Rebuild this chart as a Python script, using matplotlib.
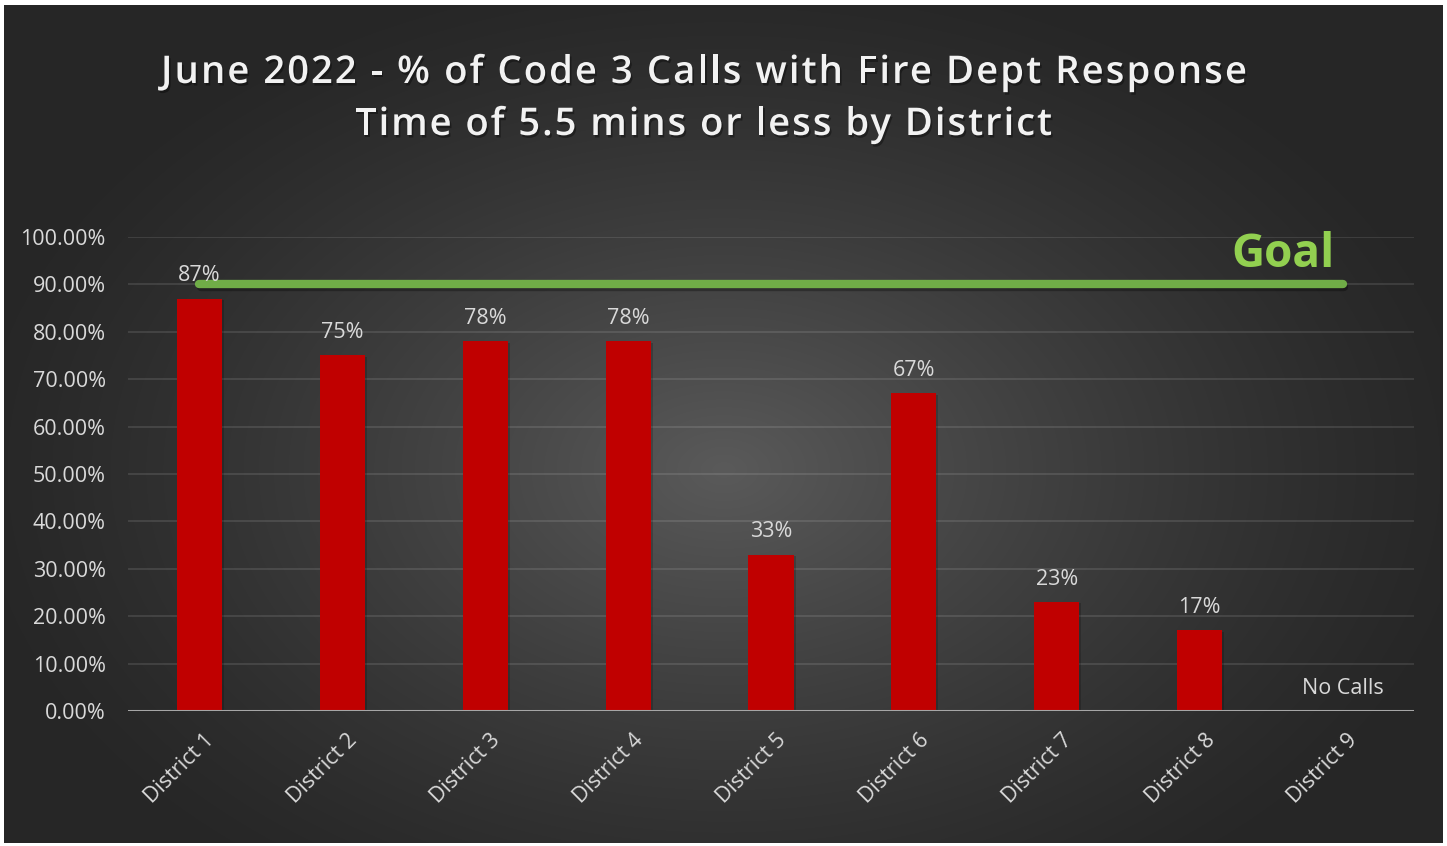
import numpy as np
import matplotlib
matplotlib.use("Agg")
import matplotlib.pyplot as plt
import matplotlib.patheffects as pe
import matplotlib.transforms as mtransforms

# ---- data ----
districts = ["District 1", "District 2", "District 3", "District 4", "District 5",
             "District 6", "District 7", "District 8", "District 9"]
pct_within_goal = [0.87, 0.75, 0.78, 0.78, 0.33, 0.67, 0.23, 0.17, 0.0]
value_labels = ["87%", "75%", "78%", "78%", "33%", "67%", "23%", "17%", "No Calls"]
goal_value = 0.90
yticks = [0.0, 0.1, 0.2, 0.3, 0.4, 0.5, 0.6, 0.7, 0.8, 0.9, 1.0]
title_lines = ["June 2022 - % of Code 3 Calls with Fire Dept Response",
               "Time of 5.5 mins or less by District"]

W, H = 1447, 846
DPI = 100
fig = plt.figure(figsize=(W / DPI, H / DPI), dpi=DPI, facecolor="white")

# ---- dark radial-gradient backdrop ----
bg = fig.add_axes([0, 0, 1, 1], zorder=-10)
bg.set_xlim(0, W)
bg.set_ylim(H, 0)
bg.axis("off")
x0, x1, y0, y1 = 4, 1443, 5, 843
xs = np.arange(x0, x1) + 0.5
ys = np.arange(y0, y1) + 0.5
X, Y = np.meshgrid(xs, ys)
cx, cy, rx, ry = 724, 470, 780, 520
r = np.clip(np.sqrt(((X - cx) / rx) ** 2 + ((Y - cy) / ry) ** 2), 0, 1)
inner, outer = 0x5a / 255, 0x26 / 255
val = outer + (inner - outer) * (1 - r) ** 1.3
img = np.dstack([val, val, val])
bg.imshow(img, extent=[x0, x1, y1, y0], interpolation="bilinear", aspect="auto")

# ---- main axes ----
ax = fig.add_axes([128 / W, (H - 711) / H, (1414 - 128) / W, (711 - 237) / H])
ax.set_facecolor("none")
xpos = np.arange(len(districts))
ax.set_xlim(-0.5, len(districts) - 0.5)
ax.set_ylim(0, 1.0)

text_color = "#D9D9D9"
tick_font = "Open Sans"
label_size = 15.5

for yv in yticks[1:]:
    ax.axhline(yv, color="white", alpha=0.11, lw=1.4, zorder=1)
ax.axhline(0, color="#A6A6A6", lw=2.2, zorder=4)

bars = ax.bar(xpos, pct_within_goal, width=0.315, color="#C00000", zorder=3)
for b in bars:
    b.set_path_effects([pe.SimplePatchShadow(offset=(1.5, -1), shadow_rgbFace="black", alpha=0.18),
                        pe.Normal()])

for xi, v, lab in zip(xpos, pct_within_goal, value_labels):
    ax.annotate(lab, (xi, v), xytext=(0, 12.5), textcoords="offset points",
                ha="center", va="baseline", color=text_color, fontsize=label_size,
                family=tick_font, zorder=6)

# goal line spanning all districts
ax.plot([xpos[0], xpos[-1]], [goal_value, goal_value], color="#70AD47", lw=6,
        solid_capstyle="round", zorder=5,
        path_effects=[pe.SimpleLineShadow(offset=(1, -2), shadow_color="black", alpha=0.3),
                      pe.Normal()])
ax.text(7.58, 0.937, "Goal", color="#92D050", fontsize=33, fontweight="bold",
        family=tick_font, ha="center", va="baseline", clip_on=False, zorder=6)

ax.set_yticks(yticks)
ax.set_yticklabels([f"{t * 100:.2f}%" for t in yticks])
ax.set_xticks(xpos)
ax.set_xticklabels(districts, rotation=45, ha="right", va="center", rotation_mode="anchor")
ax.tick_params(axis="both", length=0, colors=text_color, labelsize=label_size)
ax.tick_params(axis="y", pad=16)
ax.tick_params(axis="x", pad=19)
shift = mtransforms.ScaledTranslation(12 / DPI, 0, fig.dpi_scale_trans)
for lbl in ax.get_xticklabels():
    lbl.set_transform(lbl.get_transform() + shift)
for lbl in ax.get_xticklabels() + ax.get_yticklabels():
    lbl.set_family(tick_font)
for s in ax.spines.values():
    s.set_visible(False)

# ---- letter-spaced title with soft drop shadow ----
renderer = fig.canvas.get_renderer()
title_fp = dict(family="Open Sans", fontweight="semibold", fontsize=27.5)
shadow = [pe.withSimplePatchShadow(offset=(1.2, -1.8), shadow_rgbFace="black", alpha=0.35)]


def text_width(s):
    t = fig.text(0, 0, s, **title_fp)
    w = t.get_window_extent(renderer).width
    t.remove()
    return w


def spaced_line(s, x_left, x_right, baseline_y):
    n = len(s)
    prefix = [text_width(s[:i + 1]) - text_width(s[i]) if s[i] != " " else None for i in range(n)]
    natural = text_width(s)
    gap = (x_right - x_left - natural) / (n - 1)
    for i, ch in enumerate(s):
        if ch == " ":
            continue
        px = x_left + prefix[i] + i * gap
        fig.text(px / W, 1 - baseline_y / H, ch, color="#F2F2F2", ha="left", va="baseline",
                 path_effects=shadow, **title_fp)


spaced_line(title_lines[0], 161, 1247, 83)
spaced_line(title_lines[1], 355, 1052, 135)

fig.savefig("out.png", dpi=DPI, facecolor="white")
